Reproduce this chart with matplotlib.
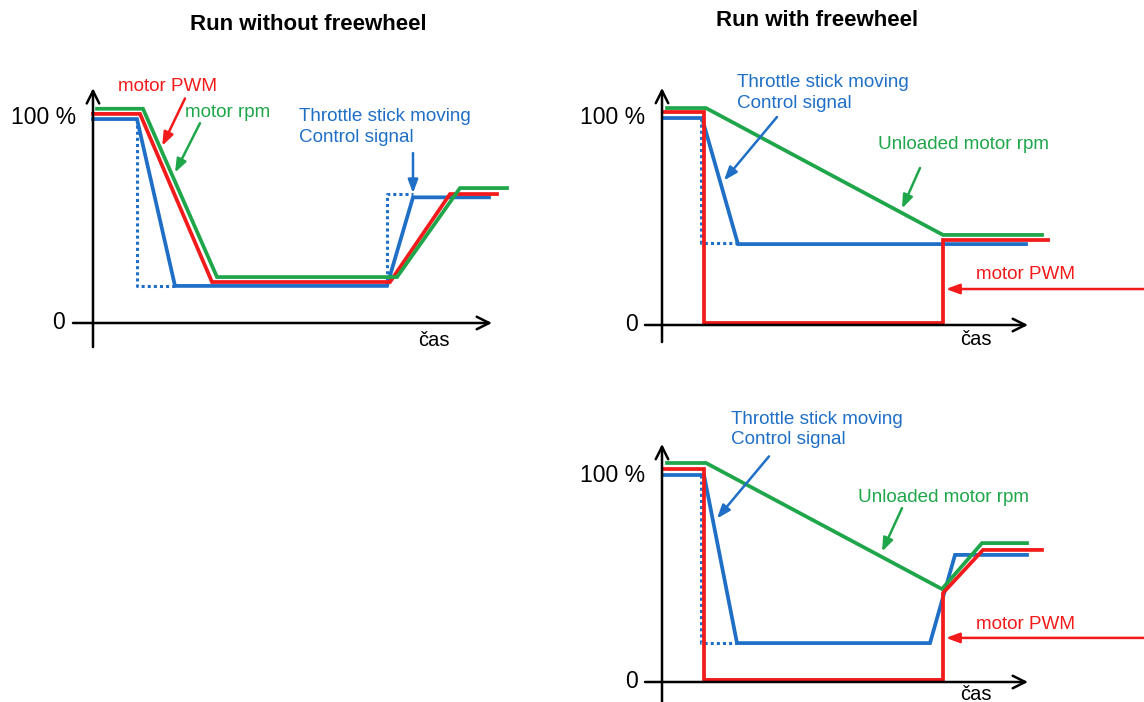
import matplotlib.pyplot as plt

plt.rcParams['font.family'] = ['Liberation Sans', 'DejaVu Sans']

W, H = 1144, 702
RED = '#f21a1a'
GREEN = '#1fa64a'
BLUE = '#1f6fc6'
FS = 13.6

# ---- panel 1: run without freewheel (time in arbitrary units, value in %)
p1_blue_t = [0, 11, 20.5, 73.5, 80, 99]
p1_blue_v = [99, 99, 18, 18, 61, 61]
p1_blue_dot_t = [11, 11, 20.5]
p1_blue_dot_v = [99, 18, 18]
p1_blue_dot2_t = [73.5, 73.5, 80]
p1_blue_dot2_v = [18, 62.5, 62.5]
p1_red_t = [0, 11.75, 29.75, 74.25, 89.25, 101]
p1_red_v = [101.5, 101.5, 19.9, 19.9, 62.6, 62.6]
p1_green_t = [1, 12.5, 31, 76, 91.75, 103.5]
p1_green_v = [104, 104, 22.3, 22.3, 65.5, 65.5]

# ---- panel 2: run with freewheel
p2_blue_t = [0.25, 10, 19, 91]
p2_blue_v = [99.5, 99.5, 38.9, 38.9]
p2_blue_dot_t = [9.75, 9.75, 19]
p2_blue_dot_v = [99.5, 39.3, 39.3]
p2_red_t = [0.5, 10.5, 10.5, 70.25, 70.25, 96.5]
p2_red_v = [102.4, 102.4, 1, 1, 40.9, 40.9]
p2_green_t = [1.25, 11, 70.25, 95]
p2_green_v = [104.3, 104.3, 43.3, 43.3]

# ---- panel 3: run with freewheel, throttle back up
p3_blue_t = [0.25, 10.5, 18.75, 67, 73.25, 91.25]
p3_blue_v = [100, 100, 18.8, 18.8, 61.4, 61.4]
p3_blue_dot_t = [9.75, 9.75, 18.75]
p3_blue_dot_v = [100, 18.8, 18.8]
p3_red_t = [0.5, 10.5, 10.5, 70.25, 70.25, 80.25, 95]
p3_red_v = [102.9, 102.9, 1, 1, 43, 63.8, 63.8]
p3_green_t = [1.25, 11, 70, 80, 91.25]
p3_green_v = [105.8, 105.8, 44.9, 67.1, 67.1]

fig = plt.figure(figsize=(W / 100, H / 100), dpi=100)


def make_panel(box, origin, sx, sy):
    x0, y0, x1, y1 = box
    ox, oy = origin
    ax = fig.add_axes([x0 / W, 1 - y1 / H, (x1 - x0) / W, (y1 - y0) / H])
    ax.set_xlim((x0 - ox) / sx, (x1 - ox) / sx)
    ax.set_ylim((oy - y1) / sy, (oy - y0) / sy)
    ax.axis('off')
    return ax


def draw_axes(ax, xmin, xmax, ymin, ymax, cas_x, cas_y, zero_x):
    arr = dict(arrowstyle='->,head_length=0.9,head_width=0.45', lw=1.8, color='black',
               shrinkA=0, shrinkB=0)
    ax.annotate('', xy=(xmax, 0), xytext=(xmin, 0), arrowprops=arr)
    ax.annotate('', xy=(0, ymax), xytext=(0, ymin), arrowprops=arr)
    ax.text(-4.2, 100, '100 %', fontsize=16.5, ha='right', va='center')
    ax.text(zero_x, 0, '0', fontsize=16.5, ha='right', va='center')
    ax.text(cas_x, cas_y, 'čas', fontsize=14.5, ha='left', va='center')


def arrow(ax, text_xy, tip_xy, color):
    ax.annotate('', xy=tip_xy, xytext=text_xy,
                arrowprops=dict(arrowstyle='-|>,head_length=0.8,head_width=0.3',
                                lw=1.8, color=color, shrinkA=0, shrinkB=0))


lw = 2.7

# panel 1
ax1 = make_panel((0, 40, 570, 360), (93, 323), 4, 2.06)
draw_axes(ax1, -5, 99.75, -11.7, 114, 81.25, -8.5, -7)
ax1.plot(p1_blue_dot_t, p1_blue_dot_v, color=BLUE, lw=2.2, ls=(0, (1, 1)))
ax1.plot(p1_blue_dot2_t, p1_blue_dot2_v, color=BLUE, lw=2.2, ls=(0, (1, 1)))
ax1.plot(p1_blue_t, p1_blue_v, color=BLUE, lw=lw, solid_joinstyle='miter')
ax1.plot(p1_red_t, p1_red_v, color=RED, lw=lw, solid_joinstyle='miter')
ax1.plot(p1_green_t, p1_green_v, color=GREEN, lw=lw, solid_joinstyle='miter')
ax1.text(6.3, 115, 'motor PWM', color=RED, fontsize=FS, va='center')
arrow(ax1, (23, 109), (17.3, 86), RED)
ax1.text(23, 102, 'motor rpm', color=GREEN, fontsize=FS, va='center')
arrow(ax1, (26.75, 97), (20.5, 73), GREEN)
ax1.text(51.5, 95, 'Throttle stick moving\nControl signal', color=BLUE,
         fontsize=FS, va='center', linespacing=1.3)
arrow(ax1, (80, 82.5), (80, 63), BLUE)

# panel 2
ax2 = make_panel((580, 40, 1144, 360), (662, 325), 4, 2.08)
draw_axes(ax2, -4.25, 91.5, -8.2, 114, 74.5, -7.2, -6)
ax2.plot(p2_blue_dot_t, p2_blue_dot_v, color=BLUE, lw=2.2, ls=(0, (1, 1)))
ax2.plot(p2_blue_t, p2_blue_v, color=BLUE, lw=lw, solid_joinstyle='miter')
ax2.plot(p2_green_t, p2_green_v, color=GREEN, lw=lw, solid_joinstyle='miter')
ax2.plot(p2_red_t, p2_red_v, color=RED, lw=lw, solid_joinstyle='miter')
ax2.text(18.75, 111.5, 'Throttle stick moving\nControl signal', color=BLUE,
         fontsize=FS, va='center', linespacing=1.3)
arrow(ax2, (28.75, 100), (15.5, 69.5), BLUE)
ax2.text(54, 87, 'Unloaded motor rpm', color=GREEN, fontsize=FS, va='center')
arrow(ax2, (64.5, 75.5), (60, 56), GREEN)
ax2.text(78.5, 24.5, 'motor PWM', color=RED, fontsize=FS, va='center')
arrow(ax2, (120.5, 17.3), (71, 17.3), RED)

# panel 3
ax3 = make_panel((580, 380, 1144, 702), (662, 682), 4, 2.07)
draw_axes(ax3, -4.25, 91.5, -12, 115, 74.5, -6, -6)
ax3.plot(p3_blue_dot_t, p3_blue_dot_v, color=BLUE, lw=2.2, ls=(0, (1, 1)))
ax3.plot(p3_blue_t, p3_blue_v, color=BLUE, lw=lw, solid_joinstyle='miter')
ax3.plot(p3_green_t, p3_green_v, color=GREEN, lw=lw, solid_joinstyle='miter')
ax3.plot(p3_red_t, p3_red_v, color=RED, lw=lw, solid_joinstyle='miter')
ax3.text(17.25, 122, 'Throttle stick moving\nControl signal', color=BLUE,
         fontsize=FS, va='center', linespacing=1.3)
arrow(ax3, (26.75, 109), (13.75, 79), BLUE)
ax3.text(49, 89, 'Unloaded motor rpm', color=GREEN, fontsize=FS, va='center')
arrow(ax3, (60, 84), (55, 63), GREEN)
ax3.text(78.5, 28, 'motor PWM', color=RED, fontsize=FS, va='center')
arrow(ax3, (120.5, 21.3), (71, 21.3), RED)

# titles
fig.text(308 / W, 1 - 25 / H, 'Run without freewheel', fontsize=16, fontweight='bold',
         ha='center', va='center')
fig.text(817 / W, 1 - 20 / H, 'Run with freewheel', fontsize=16, fontweight='bold',
         ha='center', va='center')

fig.savefig('out.png', dpi=100)
